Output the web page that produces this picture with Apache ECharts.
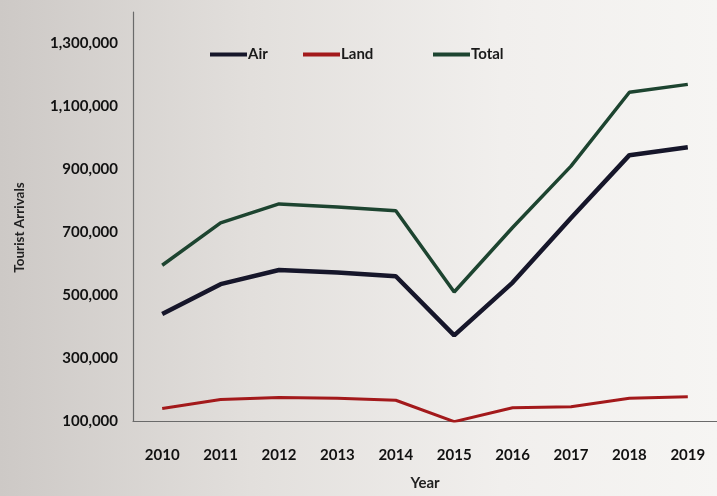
<!DOCTYPE html>
<html><head><meta charset="utf-8">
<script src="https://cdn.jsdelivr.net/npm/echarts@6/dist/echarts.min.js"></script>
<style>
html,body{margin:0;padding:0;}
#c{width:717px;height:496px;background:linear-gradient(90deg,#cdc9c6 0%,#e2dfdc 35%,#f1efed 70%,#f6f5f3 100%);}
</style></head>
<body><div id="c"></div>
<script>
const years = ['2010','2011','2012','2013','2014','2015','2016','2017','2018','2019'];
const air   = [440000, 535000, 580000, 572000, 560000, 372000, 540000, 745000, 945000, 970000];
const land  = [140000, 168000, 175000, 172000, 166000, 98000, 142000, 145000, 172000, 177000];
const total = [595000, 730000, 790000, 780000, 768000, 510000, 715000, 910000, 1145000, 1170000];

const chart = echarts.init(document.getElementById('c'), null, {renderer:'canvas'});
const fontFam = 'Lato, "Open Sans", sans-serif';
const legendBase = {
  top: 42, itemWidth: 37, itemHeight: 4, icon: 'rect',
  textStyle: {fontFamily: fontFam, fontWeight: 'bold', fontSize: 15, color: '#1a1a1a', padding:[0,0,0,-4]}
};
chart.setOption({
  backgroundColor: 'transparent',
  animation: false,
  textStyle: {fontFamily: fontFam},
  legend: [
    Object.assign({}, legendBase, {left: 205, data: ['Air']}),
    Object.assign({}, legendBase, {left: 298, data: ['Land']}),
    Object.assign({}, legendBase, {left: 428, data: ['Total']})
  ],
  grid: {left: 133, right: -17, top: 12, bottom: 69},
  xAxis: {
    type: 'category', data: years, boundaryGap: true,
    name: 'Year', nameLocation: 'middle', nameGap: 55,
    nameTextStyle: {fontFamily: fontFam, fontWeight: 'bold', fontSize: 15, color: '#222'},
    axisLine: {lineStyle: {color: '#6a6a6a', width: 1.2}},
    axisTick: {show: false},
    axisLabel: {margin: 27, fontFamily: fontFam, fontWeight: 'bold', fontSize: 15, color: '#111'}
  },
  yAxis: {
    type: 'value', min: 100000, max: 1400000, interval: 100000,
    name: 'Tourist Arrivals', nameLocation: 'middle', nameGap: 106, nameRotate: 90,
    nameTextStyle: {fontFamily: fontFam, fontWeight: 'bold', fontSize: 13.5, color: '#222', padding: [0, 22, 0, 0]},
    axisLine: {show: true, lineStyle: {color: '#6a6a6a', width: 1.2}},
    axisTick: {show: false},
    splitLine: {show: false},
    axisLabel: {
      margin: 15, fontFamily: fontFam, fontWeight: 'bold', fontSize: 15, color: '#111',
      formatter: v => (Math.round(v/100000) % 2 === 1) ? v.toLocaleString('en-US') : ''
    }
  },
  series: [
    {name: 'Air', type: 'line', data: air, symbol: 'none', color: '#16162a',
     lineStyle: {width: 4.5, color: '#16162a'}},
    {name: 'Land', type: 'line', data: land, symbol: 'none', color: '#a3191b',
     lineStyle: {width: 3, color: '#a3191b'}},
    {name: 'Total', type: 'line', data: total, symbol: 'none', color: '#1d4430',
     lineStyle: {width: 3.5, color: '#1d4430'}}
  ]
});
</script></body></html>
